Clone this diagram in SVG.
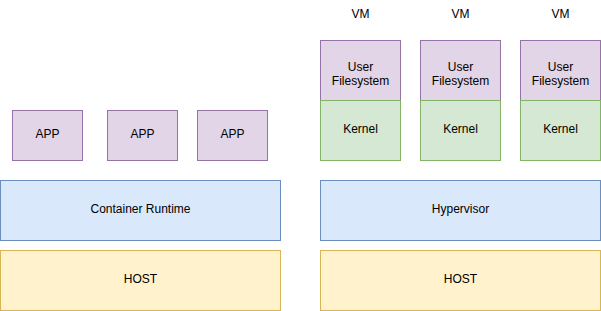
<svg xmlns="http://www.w3.org/2000/svg" width="601" height="311" viewBox="0 0 601 311">
<style>
rect{stroke-width:1}
.p{fill:#e1d5e7;stroke:#9673a6}
.b{fill:#dae8fc;stroke:#6c8ebf}
.y{fill:#fff2cc;stroke:#d6b656}
.g{fill:#d5e8d4;stroke:#82b366}
text{font-family:"Liberation Sans",Arial,sans-serif;font-size:12px;fill:#000;text-anchor:middle}
</style>
<g id="app1"><rect class="p" x="12.5" y="110.5" width="70" height="50"/><text x="47.5" y="137.5">APP</text></g>
<g id="app2"><rect class="p" x="107.5" y="110.5" width="70" height="50"/><text x="142.5" y="137.5">APP</text></g>
<g id="app3"><rect class="p" x="197.5" y="110.5" width="70" height="50"/><text x="232.5" y="137.5">APP</text></g>
<g id="container-runtime"><rect class="b" x="0.5" y="180.5" width="280" height="60"/><text x="140.5" y="212.5">Container Runtime</text></g>
<g id="host-left"><rect class="y" x="0.5" y="250.5" width="280" height="60"/><text x="140.5" y="282.5">HOST</text></g>
<g id="vm1">
<text x="360.5" y="18">VM</text>
<rect class="p" x="320.5" y="40.5" width="80" height="60"/><text x="360.5" y="71">User</text><text x="360.5" y="85">Filesystem</text>
<rect class="g" x="320.5" y="100.5" width="80" height="60"/><text x="360.5" y="132.5">Kernel</text>
</g>
<g id="vm2">
<text x="460.5" y="18">VM</text>
<rect class="p" x="420.5" y="40.5" width="80" height="60"/><text x="460.5" y="71">User</text><text x="460.5" y="85">Filesystem</text>
<rect class="g" x="420.5" y="100.5" width="80" height="60"/><text x="460.5" y="132.5">Kernel</text>
</g>
<g id="vm3">
<text x="560.5" y="18">VM</text>
<rect class="p" x="520.5" y="40.5" width="80" height="60"/><text x="560.5" y="71">User</text><text x="560.5" y="85">Filesystem</text>
<rect class="g" x="520.5" y="100.5" width="80" height="60"/><text x="560.5" y="132.5">Kernel</text>
</g>
<g id="hypervisor"><rect class="b" x="320.5" y="180.5" width="280" height="60"/><text x="460.5" y="212.5">Hypervisor</text></g>
<g id="host-right"><rect class="y" x="320.5" y="250.5" width="280" height="60"/><text x="460.5" y="282.5">HOST</text></g>
<g id="connectors"/>
</svg>
